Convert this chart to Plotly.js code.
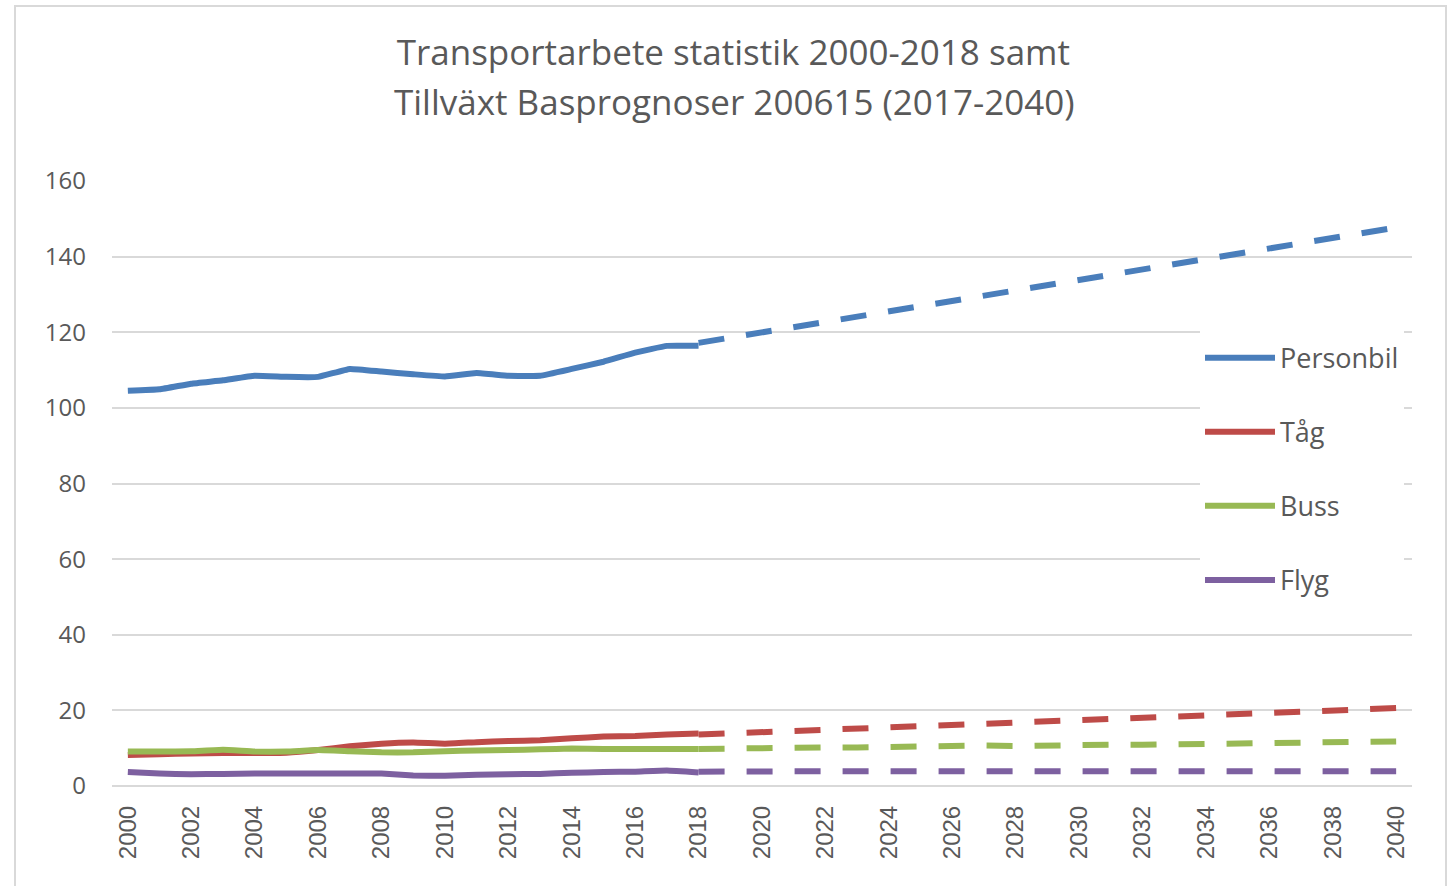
<!DOCTYPE html>
<html>
<head>
<meta charset="utf-8">
<script src="https://cdn.plot.ly/plotly-3.0.1.min.js"></script>
<style>
  html, body { margin: 0; padding: 0; background: #ffffff; }
  #chart { width: 1455px; height: 886px; }
  #frame { position: absolute; left: 14px; top: 5px; width: 1433px; height: 900px;
           border: 2px solid #d9d9d9; box-sizing: border-box; pointer-events: none; }
</style>
</head>
<body>
<div id="chart"></div>
<div id="frame"></div>
<script>
// Statistik 2000-2018
const yearsStat = [2000,2001,2002,2003,2004,2005,2006,2007,2008,2009,2010,2011,2012,2013,2014,2015,2016,2017,2018];
const personbilStat = [104.5,104.9,106.4,107.3,108.5,108.2,108.2,110.3,109.6,108.9,108.3,109.2,108.5,108.5,110.3,112.2,114.6,116.4,116.4];
const tagStat       = [8.2,8.4,8.6,8.7,8.7,8.8,9.5,10.5,11.2,11.5,11.2,11.6,11.9,12.1,12.6,13.1,13.2,13.6,13.9];
const bussStat      = [9.1,9.1,9.2,9.6,9.1,9.1,9.5,9.2,8.9,8.9,9.2,9.4,9.5,9.7,9.9,9.8,9.8,9.8,9.8];
const flygStat      = [3.7,3.3,3.1,3.2,3.3,3.3,3.3,3.3,3.3,2.8,2.7,3.0,3.1,3.2,3.5,3.7,3.8,4.1,3.6];

// Basprognos 2018-2040
const yearsProg = [2018,2019,2020,2021,2022,2023,2024,2025,2026,2027,2028,2029,2030,2031,2032,2033,2034,2035,2036,2037,2038,2039,2040];
const personbilProg = [117.2,118.6,119.9,121.3,122.7,124.1,125.5,126.9,128.3,129.7,131.1,132.5,133.9,135.3,136.7,138.1,139.6,140.9,142.3,143.7,145.0,146.4,147.7];
const tagProg       = [13.6,13.9,14.3,14.6,14.9,15.2,15.5,15.9,16.2,16.6,16.9,17.1,17.4,17.7,18.0,18.4,18.7,18.9,19.2,19.6,20.0,20.3,20.6];
const bussProg      = [9.8,10.0,10.1,10.2,10.2,10.2,10.4,10.6,10.7,10.7,10.6,10.8,10.9,10.9,10.9,11.0,11.2,11.3,11.3,11.3,11.4,11.6,11.8];
const flygProg      = [3.8,3.9,3.9,3.9,3.9,3.9,3.9,3.9,3.9,3.9,3.9,3.9,3.9,3.9,3.9,3.9,3.9,3.9,3.9,3.9,3.9,3.9,3.9];

const seriesNames = ['Personbil','Tåg','Buss','Flyg'];
const seriesColors = ['#4a7ebb','#be4b48','#98b954','#7d60a0'];
const statValues = [personbilStat, tagStat, bussStat, flygStat];
const progValues = [personbilProg, tagProg, bussProg, flygProg];

const xTickVals = [2000,2002,2004,2006,2008,2010,2012,2014,2016,2018,2020,2022,2024,2026,2028,2030,2032,2034,2036,2038,2040];
const yTickVals = [0,20,40,60,80,100,120,140,160];

const titleLine1 = 'Transportarbete statistik 2000-2018 samt';
const titleLine2 = 'Tillväxt Basprognoser 200615 (2017-2040)';

const traces = [];
seriesNames.forEach((name, i) => {
  traces.push({
    type: 'scatter', mode: 'lines', name: name, legendgroup: name,
    x: yearsStat, y: statValues[i],
    line: { color: seriesColors[i], width: 6, shape: 'spline', smoothing: 0.3 },
    hoverinfo: 'x+y+name'
  });
});
seriesNames.forEach((name, i) => {
  traces.push({
    type: 'scatter', mode: 'lines', name: name + ' prognos', legendgroup: name,
    showlegend: false,
    x: yearsProg, y: progValues[i],
    line: { color: seriesColors[i], width: 6, dash: '26px,22px' },
    hoverinfo: 'x+y+name'
  });
});

const grey = '#595959';
const layout = {
  width: 1455, height: 886,
  margin: { l: 112, r: 43, t: 181, b: 100 },
  paper_bgcolor: '#ffffff', plot_bgcolor: '#ffffff',
  font: { family: 'Open Sans, Noto Sans, sans-serif', color: grey },
  title: {
    text: titleLine1,
    font: { family: 'Open Sans, sans-serif', size: 35, color: grey },
    x: 0.504, xanchor: 'center', xref: 'container',
    y: 1 - 53/886, yanchor: 'middle', yref: 'container'
  },
  annotations: [{
    text: titleLine2, showarrow: false,
    xref: 'paper', yref: 'paper', x: (734-112)/1300, y: 1 + (181-101)/605,
    xanchor: 'center', yanchor: 'middle',
    font: { family: 'Open Sans, sans-serif', size: 35, color: grey }
  }],
  xaxis: {
    range: [1999.5, 2040.5], tickmode: 'array', tickvals: xTickVals,
    tickangle: -90, ticks: '', showgrid: false, zeroline: false,
    showline: false, ticklabelstandoff: 14,
    tickfont: { family: 'Liberation Sans, Arial, sans-serif', size: 24, color: grey }
  },
  yaxis: {
    range: [0, 160], tickmode: 'array', tickvals: yTickVals,
    ticks: '', showgrid: true, gridcolor: '#d9d9d9', gridwidth: 2,
    zeroline: true, zerolinecolor: '#d9d9d9', zerolinewidth: 2,
    showline: false, ticklabelstandoff: 25,
    tickfont: { family: 'Open Sans, sans-serif', size: 24, color: grey }
  },
  legend: {
    x: (1200-112)/1300, xanchor: 'left', y: 1 - (318-181)/605, yanchor: 'top',
    bgcolor: '#ffffff', borderwidth: 0,
    title: { text: ' ', font: { size: 12 } },
    font: { family: 'Open Sans, sans-serif', size: 27, color: grey },
    traceorder: 'grouped', tracegroupgap: 36, itemwidth: 70
  },
  showlegend: true
};

Plotly.newPlot('chart', traces, layout, { displayModeBar: false, responsive: false });
</script>
</body>
</html>
